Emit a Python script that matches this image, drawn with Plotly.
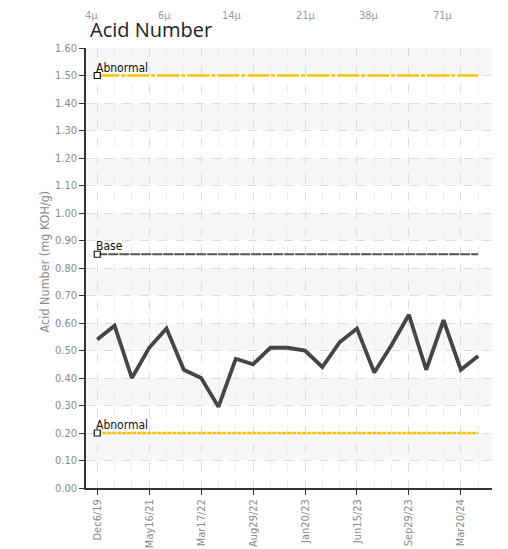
import plotly.graph_objects as go

# ---- data ----
acid_values = [0.54, 0.59, 0.40, 0.51, 0.58, 0.43, 0.40, 0.295, 0.47, 0.45, 0.51, 0.51,
               0.50, 0.44, 0.53, 0.58, 0.42, 0.52, 0.63, 0.43, 0.61, 0.43, 0.48]
sample_index = list(range(len(acid_values)))
tick_positions = [0, 3, 6, 9, 12, 15, 18, 21]
tick_labels = ["Dec6/19", "May16/21", "Mar17/22", "Aug29/22", "Jan20/23",
               "Jun15/23", "Sep29/23", "Mar20/24"]
limit_names = ["Abnormal", "Base", "Abnormal"]
limit_values = [1.50, 0.85, 0.20]
limit_colors = ["#f5c400", "#555555", "#f5c400"]
limit_dashes = ["22px,2px,4px,2px", "10px,1px", "4px,1px"]
y_ticks = [round(i * 0.1, 2) for i in range(17)]
top_labels = ["4μ", "6μ", "14μ", "21μ", "38μ", "71μ"]
top_label_x = [84, 157, 232, 306, 380, 454]

NARROW = "DejaVu Sans Condensed, Liberation Sans Narrow, sans-serif"
PLOT_L, PLOT_W = 86, 406  # as seen on screen

fig = go.Figure()

# limit lines
for name, val, col, dash in zip(limit_names, limit_values, limit_colors, limit_dashes):
    fig.add_trace(go.Scatter(
        x=[sample_index[0], sample_index[-1]], y=[val, val], mode="lines",
        line=dict(color=col, width=2.5 if col != "#555555" else 2, dash=dash),
        hoverinfo="skip", showlegend=False))
    fig.add_trace(go.Scatter(
        x=[sample_index[0]], y=[val], mode="markers",
        marker=dict(symbol="square", size=6, color="white",
                    line=dict(color="#111", width=1.2)),
        hoverinfo="skip", showlegend=False))
    fig.add_annotation(x=sample_index[0], y=val, xref="x", yref="y", text=name,
                       showarrow=False, xanchor="left", yanchor="bottom",
                       xshift=-3, yshift=-1,
                       font=dict(family=NARROW, size=12, color="#111"))

# main series
fig.add_trace(go.Scatter(
    x=sample_index, y=acid_values, mode="lines",
    line=dict(color="#454545", width=3.8), showlegend=False))

# shaded bands
for k in range(1, 16, 2):
    fig.add_shape(type="rect", xref="paper", yref="y", x0=0, x1=1,
                  y0=y_ticks[k], y1=y_ticks[k + 1], fillcolor="#f7f7f7",
                  line=dict(width=0), layer="below")

# title
fig.add_annotation(xref="paper", yref="paper", x=0, xshift=2, y=1, yshift=3,
                   yanchor="bottom", xanchor="left", showarrow=False,
                   text="Acid Number",
                   font=dict(family="Open Sans, sans-serif", size=20, color="#222"))

# y-axis title
fig.add_annotation(xref="paper", yref="paper", x=0, xshift=-42, y=0.515,
                   xanchor="center", yanchor="middle",
                   textangle=-90, showarrow=False, text="Acid Number (mg KOH/g)",
                   font=dict(family=NARROW, size=12.5, color="#8a8a8a"))

# labels from the chart above, at the top edge
for t, px in zip(top_labels, top_label_x):
    fig.add_annotation(xref="paper", yref="paper",
                       x=(px - PLOT_L) / PLOT_W, y=1, yshift=40, yanchor="top",
                       showarrow=False, borderpad=0,
                       text=t, font=dict(family=NARROW, size=11, color="#9a9a9a"))

fig.update_layout(
    width=500, height=541,
    margin=dict(l=78, r=16, t=40, b=61, autoexpand=False),
    paper_bgcolor="white", plot_bgcolor="white",
    xaxis=dict(range=[-0.65, 22.8], tickvals=tick_positions, ticktext=tick_labels,
               tickangle=-90, showline=True, linecolor="#333", linewidth=1.5,
               ticks="outside", ticklen=5, tickcolor="#333", zeroline=False,
               automargin=False,
               showgrid=True, gridcolor="#dcdcdc", griddash="dash",
               tickfont=dict(family=NARROW, size=11, color="#8a8a8a"),
               minor=dict(dtick=1, tick0=0, showgrid=True, gridcolor="#ececec",
                          griddash="dash", ticks="")),
    yaxis=dict(range=[0, 1.6], tickvals=y_ticks, ticktext=[f"{v:.2f}" for v in y_ticks],
               showline=True, linecolor="#333", linewidth=1.5, ticks="outside",
               ticklen=5, tickcolor="#333", zeroline=False, automargin=False,
               showgrid=True, gridcolor="#dcdcdc", griddash="dash",
               tickfont=dict(family=NARROW, size=11, color="#8a8a8a")),
)

fig.write_html("out.html")
